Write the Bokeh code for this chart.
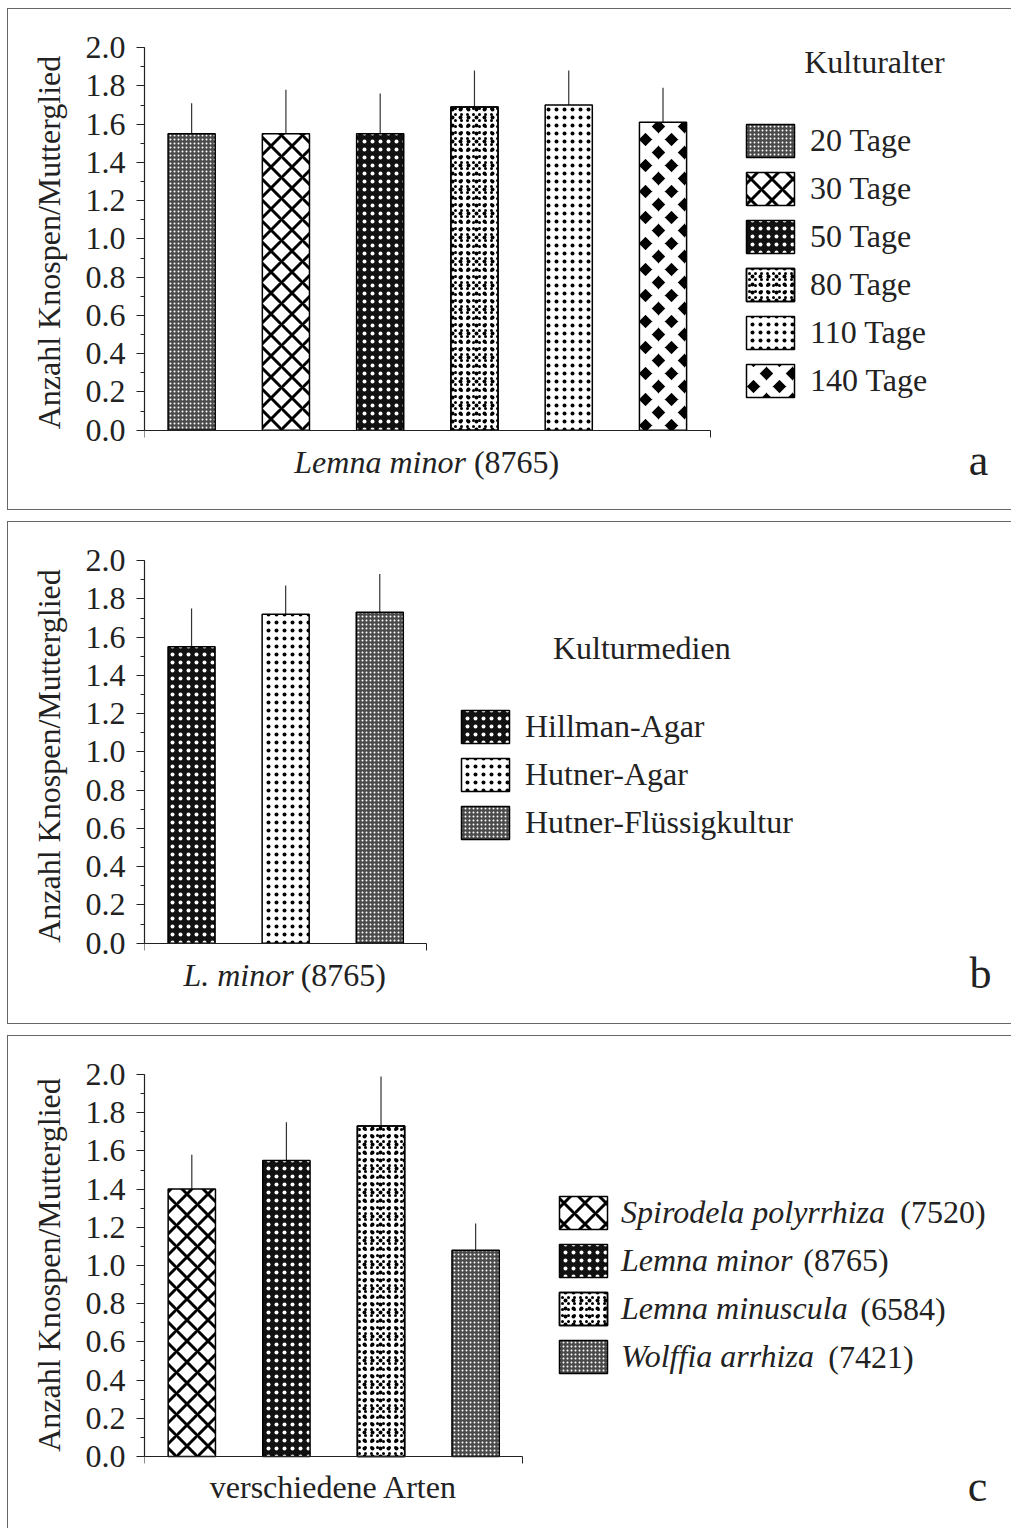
from bokeh.plotting import figure
from bokeh.models import (ColumnDataSource, Range1d, SingleIntervalTicker, FixedTicker,
                          PrintfTickFormatter, Legend, LegendItem, Label)
from bokeh.layouts import column
from bokeh.embed import file_html
from bokeh.resources import INLINE

FONT = "Liberation Serif"
FS = "32px"

# ---------------- data ----------------
y_label = "Anzahl Knospen/Mutterglied"

tage = ["20 Tage", "30 Tage", "50 Tage", "80 Tage", "110 Tage", "140 Tage"]
tage_mittel = [1.55, 1.55, 1.55, 1.69, 1.70, 1.61]
tage_sd = [0.16, 0.23, 0.21, 0.19, 0.18, 0.18]
tage_muster = ["grau", "raute", "schwarz", "quadrate", "punkte", "gitter"]

medien = ["Hillman-Agar", "Hutner-Agar", "Hutner-Flüssigkultur"]
medien_mittel = [1.55, 1.72, 1.73]
medien_sd = [0.20, 0.15, 0.20]
medien_muster = ["schwarz", "punkte", "grau"]

arten = ["Spirodela polyrrhiza", "Lemna minor", "Lemna minuscula", "Wolffia arrhiza"]
arten_klon = ["(7520)", "(8765)", "(6584)", "(7421)"]
arten_mittel = [1.40, 1.55, 1.73, 1.08]
arten_sd = [0.18, 0.20, 0.26, 0.14]
arten_muster = ["raute", "schwarz", "quadrate", "grau"]

# ---------------- styles ----------------
MUSTER = {
    "grau": dict(fill_color="#4a4a4a", hatch_pattern="dot", hatch_color="white",
                 hatch_scale=4, hatch_weight=1),
    "raute": dict(fill_color="white", hatch_pattern="diagonal_cross", hatch_color="black",
                  hatch_scale=21, hatch_weight=3),
    "schwarz": dict(fill_color="#111111", hatch_pattern="dot", hatch_color="white",
                    hatch_scale=8, hatch_weight=1),
    "quadrate": dict(fill_color="white", hatch_pattern="dot", hatch_color="black",
                     hatch_scale=8, hatch_weight=1),
    "punkte": dict(fill_color="white", hatch_pattern="dot", hatch_color="black",
                   hatch_scale=8, hatch_weight=1),
    "gitter": dict(fill_color="black", hatch_pattern="diagonal_cross", hatch_color="white",
                   hatch_scale=26, hatch_weight=9),
}
# second texture layer laid over some patterns
UEBERLAGERUNG = {
    "quadrate": dict(fill_alpha=0, hatch_pattern="dot", hatch_color="black",
                     hatch_scale=6, hatch_weight=1),
}

PX_PER_UNIT = 190.5   # vertical pixels per 1.0
LEFT = 136            # left panel width
CANVAS_W = 1003
ZERO = 419            # y = 0 line below canvas top
BOTTOM = 20           # below-panel height
GLYPH_W = 60          # legend swatch incl. 10% inset per side
ITEM_H = 41
TXT = "#222222"
NB = "\u00a0\u00a0"   # shifts the centred axis title up a little


def make_panel(cats, mittel, sd, muster, unit_x, canvas_h, css,
               legend_left, legend_top, legend_spacing, legend_standoff,
               legend_italic=False):
    n = len(cats)
    frame_w = CANVAS_W - LEFT
    frame_h = canvas_h - BOTTOM
    y0 = -(frame_h - ZERO) / PX_PER_UNIT
    y1 = ZERO / PX_PER_UNIT
    p = figure(x_range=Range1d(0, frame_w / unit_x), y_range=Range1d(y0, y1),
               frame_width=frame_w, frame_height=frame_h,
               min_border_left=LEFT, min_border_right=0,
               min_border_top=0, min_border_bottom=BOTTOM,
               output_backend="svg", toolbar_location=None,
               outline_line_color=None, background_fill_color="white",
               border_fill_color="white", styles=css)
    p.grid.grid_line_color = None

    xa = p.xaxis[0]
    xa.fixed_location = 0
    xa.bounds = (0, n)
    xa.ticker = FixedTicker(ticks=[0, n])
    xa.major_label_overrides = {0: "", n: ""}
    xa.major_label_text_font_size = "1px"
    xa.major_tick_out = 7
    xa.major_tick_in = 0
    xa.minor_tick_out = 0
    xa.minor_tick_in = 0
    xa.axis_line_color = TXT
    xa.major_tick_line_color = TXT
    xa.axis_line_width = 1.2

    ya = p.yaxis[0]
    ya.bounds = (0, 2.0)
    ya.ticker = SingleIntervalTicker(interval=0.2, num_minor_ticks=2)
    ya.formatter = PrintfTickFormatter(format="%.1f")
    ya.axis_label = NB + y_label
    ya.axis_label_text_font = FONT
    ya.axis_label_text_font_size = FS
    ya.axis_label_text_font_style = "normal"
    ya.axis_label_text_color = TXT
    ya.axis_label_standoff = 16
    ya.major_label_text_font = FONT
    ya.major_label_text_font_size = FS
    ya.major_label_text_color = TXT
    ya.major_label_standoff = 11
    ya.major_tick_out = 8
    ya.major_tick_in = 0
    ya.minor_tick_out = 4
    ya.minor_tick_in = 0
    ya.axis_line_color = TXT
    ya.axis_line_width = 1.2
    ya.major_tick_line_color = TXT
    ya.minor_tick_line_color = TXT

    items = []
    for i, (c, m, s, k) in enumerate(zip(cats, mittel, sd, muster)):
        src = ColumnDataSource(dict(x=[i + 0.5], top=[m], upper=[m + s], name=[c]))
        p.segment(x0="x", y0="top", x1="x", y1="upper", source=src,
                  line_color="#333333", line_width=1.2)
        r = p.vbar(x="x", top="top", width=0.5, source=src,
                   line_color="black", line_width=1.5, **MUSTER[k])
        rs = [r]
        if k in UEBERLAGERUNG:
            rs.append(p.vbar(x="x", top="top", width=0.5, source=src,
                             line_color="black", line_width=1.5, **UEBERLAGERUNG[k]))
        items.append(LegendItem(label=c, renderers=rs))

    leg_h = n * ITEM_H + (n - 1) * legend_spacing
    vy = (frame_h - ZERO) + (legend_top - leg_h)
    leg = Legend(items=items, location=(legend_left, vy),
                 glyph_width=GLYPH_W, glyph_height=ITEM_H,
                 label_standoff=legend_standoff, spacing=legend_spacing,
                 padding=0, margin=0, border_line_color=None,
                 background_fill_alpha=0, label_text_font=FONT,
                 label_text_font_size=FS, label_height=ITEM_H,
                 label_text_color=TXT,
                 label_text_font_style="italic" if legend_italic else "normal")
    p.add_layout(leg)
    return p


def put(p, dx, dy, text, unit_x, size=FS, style="normal", align="left"):
    p.add_layout(Label(x=dx / unit_x, y=dy / PX_PER_UNIT, text=text,
                       text_font=FONT, text_font_size=size, text_font_style=style,
                       text_align=align, text_baseline="middle",
                       text_color=TXT))


border_full = {"border-top": "1px solid #666666", "border-left": "1px solid #666666",
               "border-bottom": "1px solid #666666"}
border_open = {"border-top": "1px solid #666666", "border-left": "1px solid #666666"}

# panel a
ua = 565 / 6
pa = make_panel(tage, tage_mittel, tage_sd, tage_muster, ua, 500, border_full,
                596, 310, 7, 10)
put(pa, 321, -32, "Lemna minor", ua, style="italic", align="right")
put(pa, 329, -32, "(8765)", ua)
put(pa, 659, 367, "Kulturalter", ua)
put(pa, 833, -30, "a", ua, size="44px", align="center")

# panel b
ub = 282 / 3
pb = make_panel(medien, medien_mittel, medien_sd, medien_muster, ub, 501, border_full,
                311, 237, 7, 10)
put(pb, 149, -32, "L. minor", ub, style="italic", align="right")
put(pb, 156, -32, "(8765)", ub)
put(pb, 408, 294, "Kulturmedien", ub)
put(pb, 835, -30, "b", ub, size="44px", align="center")

# panel c
uc = 378 / 4
pc = make_panel(arten, arten_mittel, arten_sd, arten_muster, uc, 492, border_open,
                409, 264, 7, 8, legend_italic=True)
put(pc, 189, -31, "verschiedene Arten", uc, align="center")
put(pc, 832, -30, "c", uc, size="44px", align="center")
for dx, dy, t in zip([755, 658, 715, 683], [243.5, 195.5, 147.5, 99.5], arten_klon):
    put(pc, dx, dy, t, uc)

layout = column(pa, pb, pc, spacing=11, margin=(8, 0, 0, 7))
open("out.html", "w").write(file_html(layout, INLINE))
